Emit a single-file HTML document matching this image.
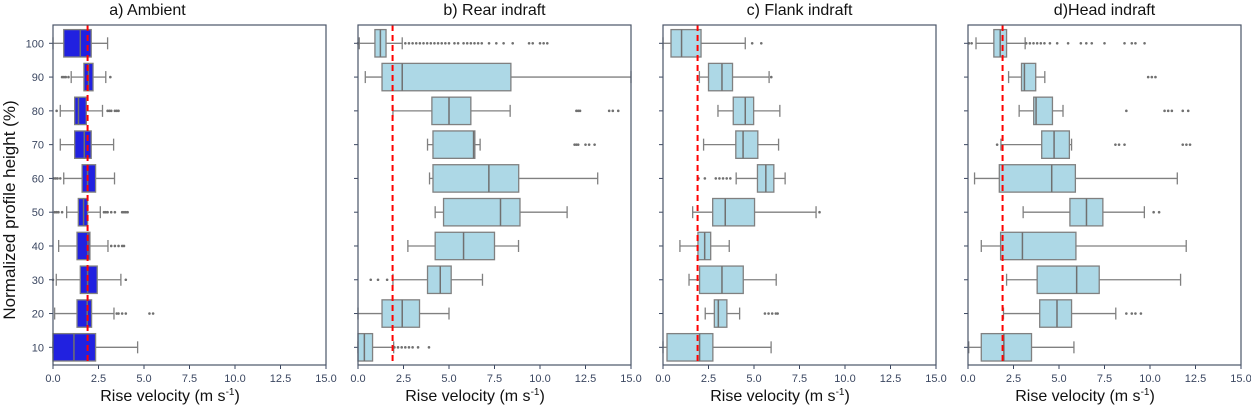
<!DOCTYPE html>
<html><head><meta charset="utf-8"><style>
body{margin:0;background:#fff;}
svg text{font-family:"Liberation Sans",sans-serif;}
</style></head><body>
<svg id="chart" width="1251" height="409" viewBox="0 0 1251 409" xmlns="http://www.w3.org/2000/svg"></svg>
<script>
const heights=[100,90,80,70,60,50,40,30,20,10];
const xTicks=[0,2.5,5,7.5,10,12.5,15];
const xTickLabels=["0.0","2.5","5.0","7.5","10.0","12.5","15.0"];
const refLine=1.9;
const titles=["a) Ambient","b) Rear indraft","c) Flank indraft","d)Head indraft"];
const ambientStats=[[0,0.59,1.5,2.1,3.0],[1.0,1.7,1.95,2.2,2.9],[0.4,1.19,1.4,1.83,2.72],[0.4,1.19,1.72,2.1,3.33],[0.59,1.6,1.9,2.34,3.38],[0.75,1.39,1.68,1.9,2.6],[0.31,1.32,1.92,2.03,3.02],[0.18,1.5,1.9,2.43,3.73],[0.09,1.32,1.88,2.12,3.35],[0,0,1.15,2.34,4.65]];
const rearStats=[[0.07,0.93,1.23,1.54,2.43],[0.4,1.32,2.43,8.4,15],[1.92,4.06,5.0,6.2,8.36],[3.82,4.12,6.35,6.42,6.71],[3.93,4.12,7.19,8.83,13.17],[4.24,4.7,7.83,8.9,11.49],[2.74,4.24,5.8,7.5,8.82],[1.92,3.82,4.52,5.12,6.84],[0,1.32,2.43,3.38,5.0],[0,0,0.35,0.8,1.96]];
const flankStats=[[0,0.44,1.02,2.09,4.52],[2.0,2.5,3.24,3.82,5.83],[3.02,3.86,4.52,4.98,6.42],[2.23,4.0,4.4,5.21,6.35],[4.02,5.19,5.65,6.09,6.71],[1.63,2.73,3.42,5.03,8.41],[0.93,1.92,2.29,2.62,3.64],[1.43,2.01,3.24,4.41,6.22],[2.32,2.82,3.04,3.51,4.21],[0,0.22,2.01,2.74,5.94]];
const headStats=[[0.44,1.42,1.77,2.12,3.14],[2.23,2.94,3.1,3.72,4.22],[2.81,3.61,3.74,4.64,5.22],[1.81,4.05,4.73,5.57,5.69],[0.36,1.72,4.6,5.9,11.5],[3.03,5.6,6.51,7.41,9.69],[0.73,1.79,2.99,5.93,11.99],[2.12,3.8,5.97,7.21,11.68],[1.95,3.94,4.89,5.69,8.12],[0.04,0.73,1.97,3.49,5.82]];
const ambientOut=[[],[0.5,0.6,0.7,0.85,3.15],[0.2,3.0,3.1,3.2,3.4,3.5,3.6],[],[0.05,0.15,0.25,0.4],[0.1,0.2,0.3,0.5,2.8,2.9,3.0,3.2,3.4,3.8,3.9,4.0,4.1],[3.2,3.4,3.6,3.8,3.9],[0,4.0],[3.5,3.6,3.8,4.0,5.3,5.5],[]];
const rearOut=[[0,2.6,2.8,3.0,3.2,3.4,3.6,3.8,4.0,4.2,4.4,4.6,4.8,5.0,5.3,5.5,5.8,6.0,6.2,6.4,6.6,6.8,7.2,7.6,8.0,8.5,9.4,9.6,10.0,10.2,10.4],[],[12.0,12.1,12.2,13.8,14.0,14.3],[11.9,12.0,12.1,12.5,12.7,13.0],[],[],[],[0.7,1.1,1.6],[],[2.0,2.2,2.4,2.6,2.8,3.0,3.3,3.9]];
const flankOut=[[4.9,5.4],[5.95],[],[],[1.95,2.3,2.9,3.1,3.3,3.5,3.7],[8.6],[],[],[5.6,5.8,6.0,6.2,6.3],[]];
const headOut=[[0.05,0.2,3.2,3.4,3.6,3.8,4.0,4.2,4.5,4.9,5.5,6.2,6.5,6.8,7.5,8.6,9.0,9.2,9.7],[9.9,10.1,10.3],[8.7,10.8,11.0,11.2,11.8,12.1],[1.6,8.1,8.3,8.6,11.8,12.0,12.2],[],[10.2,10.5],[],[],[8.7,9.0,9.2,9.5],[]];
const allStats=[ambientStats,rearStats,flankStats,headStats];
const allOut=[ambientOut,rearOut,flankOut,headOut];
const fills=["#2121e0","#add8e6","#add8e6","#add8e6"];
const panelLeft=[53,358,663,968], panelW=273, plotTop=25, plotBottom=365;
const NS="http://www.w3.org/2000/svg", svg=document.getElementById('chart');
function mk(tag,attrs,parent){const e=document.createElementNS(NS,tag);for(const k in attrs)e.setAttribute(k,attrs[k]);(parent||svg).appendChild(e);return e;}
function yPos(i){return 43.3+i*33.78;}
const names=["ambient","rear-indraft","flank-indraft","head-indraft"];
for(let p=0;p<4;p++){
  const L=panelLeft[p];
  const xs=v=>L+v/15*panelW;
  const g=mk('g',{});
  
  
  const t=mk('text',{x:L+panelW/2+(p==0?-42:0),y:15,'font-size':16,'text-anchor':'middle',fill:'#111'},g);
  t.textContent=titles[p];
  
  
  const xl=mk('text',{x:L+117,y:401,'font-size':16,'text-anchor':'middle',fill:'#111'},g);
  xl.innerHTML='Rise velocity (m s<tspan dy="-6" font-size="10">-1</tspan><tspan dy="6">)</tspan>';
  
  
  xTicks.forEach((v,k)=>{
    mk('line',{x1:xs(v),x2:xs(v),y1:plotBottom,y2:plotBottom+4,stroke:'#3a4660'},g);
    const tl=mk('text',{x:xs(v),y:plotBottom+17,'font-size':11,'text-anchor':'middle',fill:'#3a4660'},g);
    tl.textContent=xTickLabels[k];
    
    
  });
  heights.forEach((h,i)=>{
    const y=yPos(i);
    mk('line',{x1:L-4,x2:L,y1:y,y2:y,stroke:'#3a4660'},g);
    if(p==0){const yl=mk('text',{x:L-9,y:y+4,'font-size':11,'text-anchor':'end',fill:'#3a4660'},g);yl.textContent=h;
      
      }
    const s=allStats[p][i];
    const bx=mk('g',{},g);
    
    
    mk('line',{x1:xs(s[0]),x2:xs(s[1]),y1:y,y2:y,stroke:'#808080','stroke-width':1.3},bx);
    mk('line',{x1:xs(s[3]),x2:xs(s[4]),y1:y,y2:y,stroke:'#808080','stroke-width':1.3},bx);
    mk('line',{x1:xs(s[0]),x2:xs(s[0]),y1:y-6,y2:y+6,stroke:'#808080','stroke-width':1.3},bx);
    mk('line',{x1:xs(s[4]),x2:xs(s[4]),y1:y-6,y2:y+6,stroke:'#808080','stroke-width':1.3},bx);
    mk('rect',{x:xs(s[1]),y:y-13.7,width:Math.max(1,xs(s[3])-xs(s[1])),height:27.4,fill:fills[p],stroke:'#808080','stroke-width':1.3},bx);
    mk('line',{x1:xs(s[2]),x2:xs(s[2]),y1:y-13.7,y2:y+13.7,stroke:'#707070','stroke-width':1.5},bx);
    allOut[p][i].forEach(v=>{const c=mk('circle',{cx:xs(v),cy:y,r:1.3,fill:'#707070'},bx);
      
      });
  });
  const rl=mk('line',{x1:xs(refLine),x2:xs(refLine),y1:plotTop,y2:plotBottom,stroke:'#ff0000','stroke-width':2,'stroke-dasharray':'6,4'},g);
  
  
  const fr=mk('rect',{x:L,y:plotTop,width:panelW,height:plotBottom-plotTop,fill:'none',stroke:'#4a5568','stroke-width':1.2},g);
  
  
}
const yt=mk('text',{x:0,y:0,'font-size':17,'text-anchor':'middle',fill:'#111',transform:'translate(15,210) rotate(-90)'});
yt.textContent='Normalized profile height (%)';


</script>
</body></html>
